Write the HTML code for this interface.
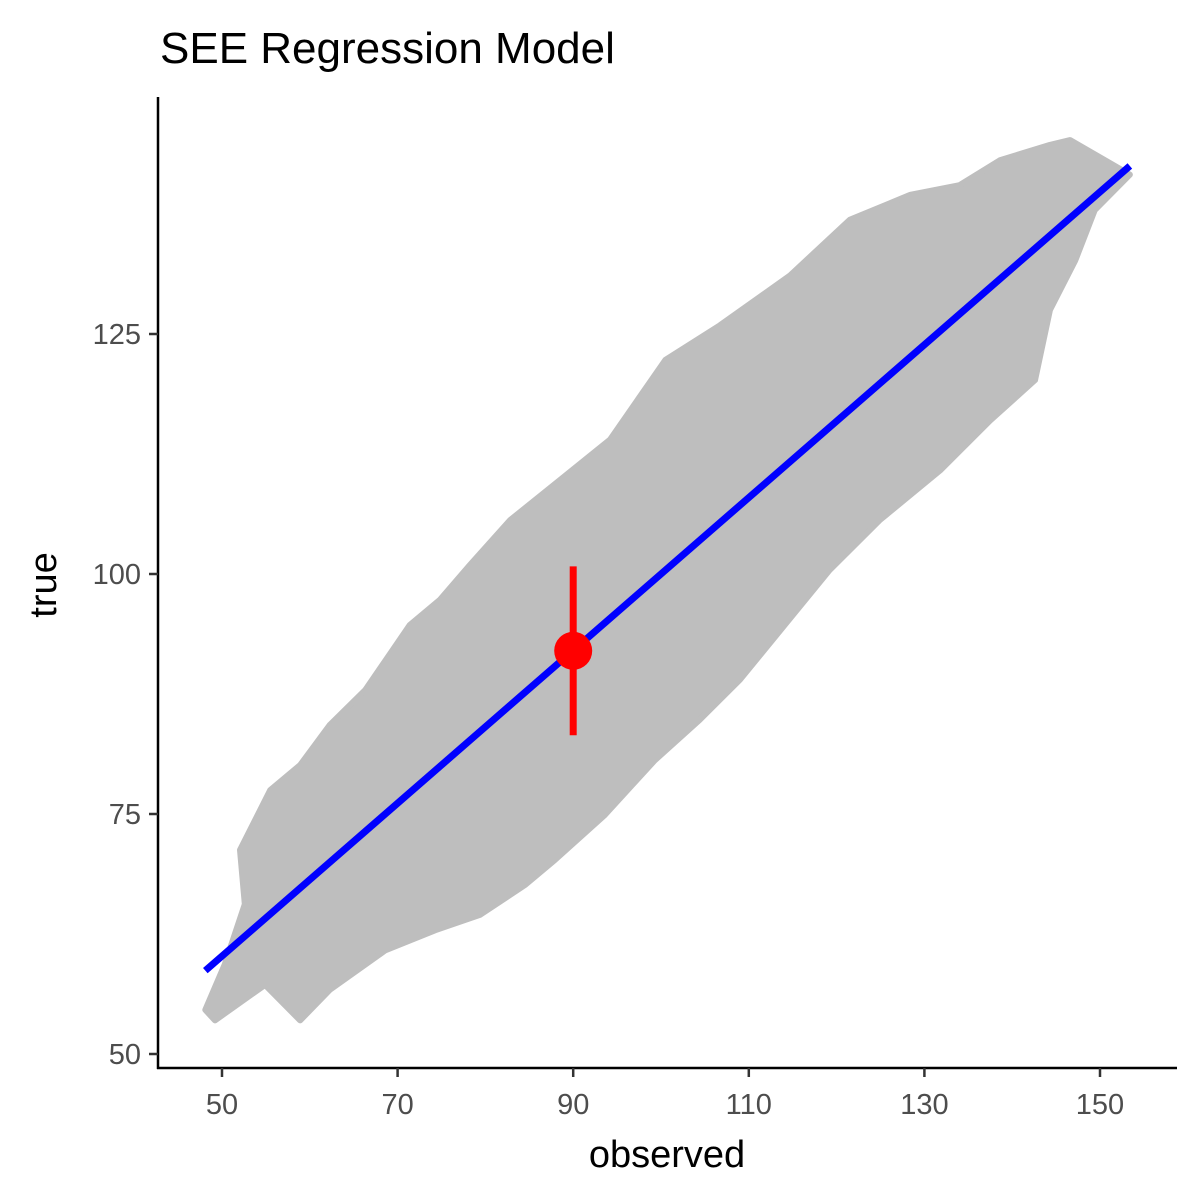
<!DOCTYPE html>
<html><head><meta charset="utf-8"><style>
body{margin:0;background:#fff;}
svg{display:block;font-family:"Liberation Sans",sans-serif;}
</style></head><body>
<svg id="chart" width="1200" height="1200" viewBox="0 0 1200 1200" xmlns="http://www.w3.org/2000/svg">
<rect width="1200" height="1200" fill="#fff"/>
<text x="160" y="63" font-size="44" fill="#000">SEE Regression Model</text>
<g id="plot"></g>
<line x1="158" y1="97" x2="158" y2="1069" stroke="#000" stroke-width="2.5"/>
<line x1="157" y1="1068" x2="1177" y2="1068" stroke="#000" stroke-width="2.5"/>
<g id="axes"></g>
<text x="667" y="1167" font-size="38" text-anchor="middle" fill="#000">observed</text>
<text transform="translate(56,585) rotate(-90)" font-size="38" text-anchor="middle" fill="#000">true</text>
</svg>
<script>
const xTicks=[50,70,90,110,130,150];
const yTicks=[50,75,100,125];
// cloud hull boundary (observed, true)
const cloudX=[52.05,55.5,58.9,62.3,66.3,71.4,74.8,78.2,82.8,88.5,94.2,100.5,106.7,114.7,121.5,128.4,134,138.6,144.3,146.6,153.4,149.4,147.2,144.3,142.6,137.5,131.8,124.9,119.2,114.1,109,104.4,99.3,93.6,87.9,84.5,79.4,74.3,68.6,62.3,58.9,54.9,49.2,48.1,50.3,52.6];
const cloudY=[71.25,77.5,80.1,84.3,87.9,94.7,97.3,100.9,105.6,109.8,114,122.3,125.9,131.1,136.9,139.5,140.5,143.1,144.7,145.2,141.6,137.9,132.7,127.5,120.2,116,110.8,105.6,100.4,94.7,89,84.8,80.6,74.9,70.2,67.6,64.5,62.9,60.8,56.7,53.5,57.2,53.5,54.6,59.3,65.6];
const fitIntercept=20.4, fitSlope=0.796;
const fitRange=[48.1,153.4];
const pointX=[90], pointY=[92], errLow=[83.2], errHigh=[100.8];

const NS="http://www.w3.org/2000/svg";
const sx=v=>222+(v-50)*8.78;
const sy=v=>1054-(v-50)*9.6;
const plot=document.getElementById('plot'), axes=document.getElementById('axes');
function mk(t,a,p){const e=document.createElementNS(NS,t);for(const k in a)e.setAttribute(k,a[k]);p.appendChild(e);return e;}

const pts=cloudX.map((x,i)=>sx(x)+','+sy(cloudY[i])).join(' ');
const cloud=mk('polygon',{points:pts,fill:'#bebebe',stroke:'#bebebe','stroke-width':6,'stroke-linejoin':'round'},plot);



const fl=mk('line',{x1:sx(fitRange[0]),y1:sy(fitIntercept+fitSlope*fitRange[0]),x2:sx(fitRange[1]),y2:sy(fitIntercept+fitSlope*fitRange[1]),stroke:'#0000ff','stroke-width':7},plot);



pointX.forEach((x,i)=>{
  const eb=mk('line',{x1:sx(x),x2:sx(x),y1:sy(errLow[i]),y2:sy(errHigh[i]),stroke:'#ff0000','stroke-width':7},plot);
  
  
  const c=mk('circle',{cx:sx(x),cy:sy(pointY[i]),r:19,fill:'#ff0000'},plot);
  
  
});

xTicks.forEach(v=>{
  const t=mk('line',{x1:sx(v),x2:sx(v),y1:1068,y2:1077,stroke:'#333','stroke-width':2.5},axes);
  
  
  const l=mk('text',{x:sx(v),y:1114,'font-size':29,'text-anchor':'middle',fill:'#4d4d4d'},axes);
  l.textContent=v;
  
  
});
yTicks.forEach(v=>{
  const t=mk('line',{x1:149,x2:158,y1:sy(v),y2:sy(v),stroke:'#333','stroke-width':2.5},axes);
  
  
  const l=mk('text',{x:141,y:sy(v)+10,'font-size':29,'text-anchor':'end',fill:'#4d4d4d'},axes);
  l.textContent=v;
  
  
});
</script>
</body></html>
